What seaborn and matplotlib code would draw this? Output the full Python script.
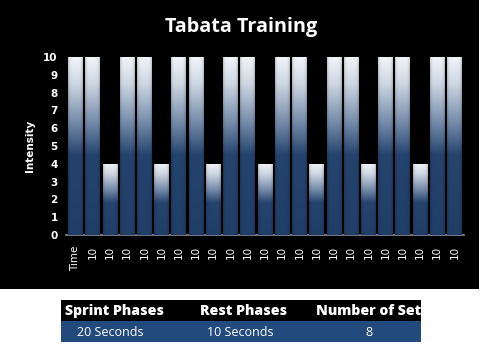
import numpy as np
import matplotlib
matplotlib.use("Agg")
import matplotlib.pyplot as plt
import matplotlib.patches as mpatches
from matplotlib.colors import LinearSegmentedColormap
import seaborn as sns
import pandas as pd

# ---- data ----
labels = ["Time"] + ["10"] * 22
intensity = [10, 10, 4, 10, 10, 4, 10, 10, 4, 10, 10, 4, 10, 10, 4,
             10, 10, 4, 10, 10, 4, 10, 10]
table_headers = ["Sprint Phases", "Rest Phases", "Number of Sets"]
table_values = ["20 Seconds", "10 Seconds", "8"]
title = "Tabata Training"
ylabel = "Intensity"

sns.set_theme(style="dark")
plt.rcParams["font.family"] = ["DejaVu Sans"]

W, H = 482, 351
fig = plt.figure(figsize=(W / 100, H / 100), dpi=100)
fig.patch.set_facecolor("white")

# black chart backdrop
fig.add_artist(mpatches.Rectangle((0, 1 - 289 / H), 479 / W, 289 / H,
                                  transform=fig.transFigure, facecolor="black",
                                  edgecolor="none", zorder=0))

ax = fig.add_axes([66 / W, 1 - 235 / H, (464 - 66) / W, (235 - 57) / H])
ax.set_facecolor("black")

df = pd.DataFrame({"pos": list(range(len(intensity))), "val": intensity})
sns.barplot(data=df, x="pos", y="val", ax=ax, color="#1F3F69", width=0.86,
            saturation=1, edgecolor="none")

cmap = LinearSegmentedColormap.from_list(
    "g", [(0.0, "#1F3F69"), (0.45, "#24446E"), (0.62, "#6F87A6"),
          (0.85, "#CDD6E2"), (1.0, "#F2F5F9")])
grad = np.linspace(0, 1, 256)[:, None]
hshade = 1 - 0.22 * (np.abs(np.linspace(-1, 1, 64)) ** 6)[None, :]
for p in list(ax.patches):
    x0, w, h = p.get_x(), p.get_width(), p.get_height()
    img = cmap(np.repeat(grad, 64, axis=1))
    img[..., :3] *= hshade[..., None]
    im = ax.imshow(img, extent=[x0, x0 + w, 0, h], origin="lower",
                   aspect="auto", zorder=3, interpolation="bilinear")
    im.set_clip_path(p)

ax.set_xlim(-0.55, len(intensity) - 0.45)
ax.set_ylim(0, 10)
ax.set_yticks(range(0, 11))
ax.set_xticks(range(len(labels)))
ax.set_xticklabels(labels, rotation=90, color="white", fontsize=7.5)
ax.tick_params(axis="y", colors="white", labelsize=7.5, length=0, pad=6)
ax.tick_params(axis="x", length=0, pad=8)
for t in ax.get_yticklabels():
    t.set_fontweight("bold")
ax.set_xlabel("")
ax.set_ylabel(ylabel, color="white", fontsize=7.5, fontweight="bold", labelpad=6)
ax.grid(False)
for s in ["top", "right", "left"]:
    ax.spines[s].set_visible(False)
ax.spines["bottom"].set_visible(True)
ax.spines["bottom"].set_color("#8C8C8C")
ax.spines["bottom"].set_linewidth(1.2)

fig.text(241 / W, 1 - 27 / H, title, color="white", fontsize=14.2,
         fontweight="bold", ha="center", va="center", family="Open Sans")

# table below
tx0, tx1 = 61 / W, 421 / W
fig.add_artist(mpatches.Rectangle((tx0, 1 - 321 / H), tx1 - tx0, 21 / H,
                                  transform=fig.transFigure, facecolor="black",
                                  edgecolor="none"))
fig.add_artist(mpatches.Rectangle((tx0, 1 - 342 / H), tx1 - tx0, 21 / H,
                                  transform=fig.transFigure, facecolor="#234A7C",
                                  edgecolor="none"))
hx = [65, 200, 316]
clip = mpatches.Rectangle((tx0, 0), tx1 - tx0, 1, transform=fig.transFigure)
for x, t in zip(hx, table_headers):
    txt = fig.text(x / W, 1 - 311 / H, t, color="white", fontsize=10.2,
                   fontweight="heavy", ha="left", va="center", family="Open Sans")
    txt.set_clip_path(clip)
vx = [110, 240, 369]
for x, t in zip(vx, table_values):
    fig.text(x / W, 1 - 332 / H, t, color="white", fontsize=9,
             ha="center", va="center", family="Open Sans")

fig.savefig("out.png", dpi=100, facecolor=fig.get_facecolor())
